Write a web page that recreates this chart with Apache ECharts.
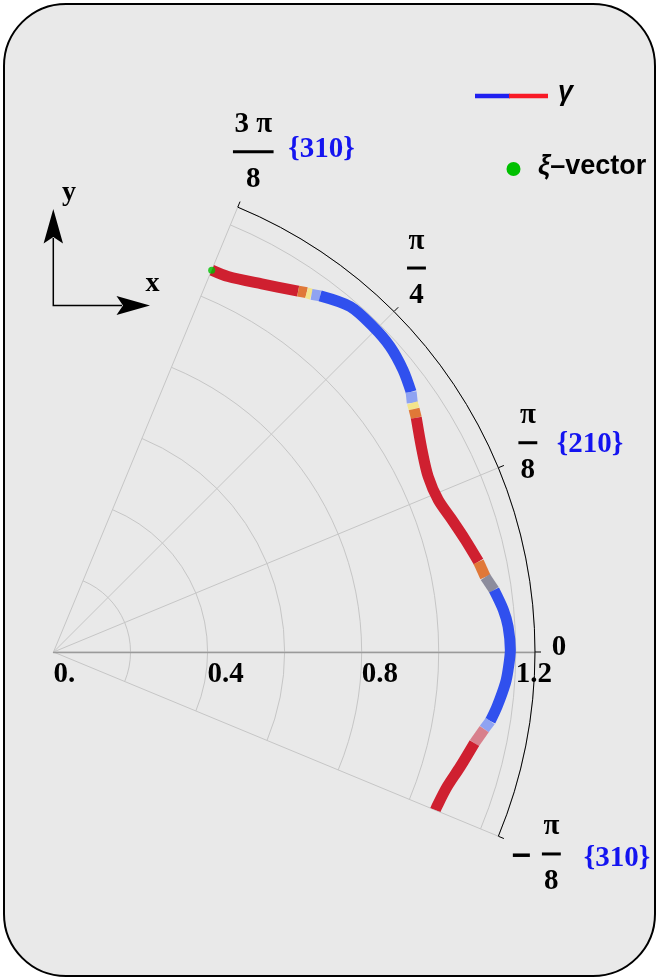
<!DOCTYPE html>
<html>
<head>
<meta charset="utf-8">
<script src="https://cdn.jsdelivr.net/npm/echarts@6/dist/echarts.min.js"></script>
<style>
  html, body { margin: 0; padding: 0; background: #ffffff; }
  #chart { width: 659px; height: 980px; }
</style>
</head>
<body>
<div id="chart"></div>
<script>
// Samples along the γ curve: polar angle (degrees) and radius.
const gammaAngle = [
  67.5, 65.06, 60.5, 55.87, 54.83, 54.19, 53.18, 49.35, 45.52, 42.22,
  38.90, 36.03, 34.78, 33.98, 32.85, 28.75, 25.08, 21.57, 18.34, 15.23,
  12.0, 9.86, 8.01, 5.34, 3.19, 0.25, -2.27, -3.93, -7.04, -8.98,
  -10.14, -12.21, -15.76, -18.91, -21.98, -22.5
];
const gammaRadius = [
  1.073, 1.075, 1.098, 1.132, 1.141, 1.145, 1.155, 1.182, 1.184, 1.180,
  1.166, 1.148, 1.134, 1.129, 1.121, 1.091, 1.074, 1.074, 1.090, 1.108,
  1.128, 1.138, 1.155, 1.173, 1.182, 1.186, 1.181, 1.176, 1.160, 1.148,
  1.136, 1.118, 1.097, 1.080, 1.073, 1.073
];
// Phase of the segment between sample i and sample i + 1.
const gammaPhase = [
  'red', 'red', 'red', 'orange', 'yellow', 'lightBlue', 'blue', 'blue', 'blue', 'blue',
  'blue', 'lightBlue', 'yellow', 'orange', 'red', 'red', 'red', 'red', 'red', 'red',
  'orange', 'gray', 'blue', 'blue', 'blue', 'blue', 'blue', 'blue', 'blue', 'lightBlue',
  'pink', 'red', 'red', 'red', 'red'
];
// ξ-vector: [radius, angle]
const xiVector = [1.073, 67.5];

const radiusTicks = [0, 0.4, 0.8, 1.2];
const angleTicks = [-22.5, 0, 22.5, 45, 67.5];
const angleTickLabels = [
  { sign: '−', num: 'π', den: '8' },
  { text: '0' },
  { num: 'π', den: '8' },
  { num: 'π', den: '4' },
  { num: '3 π', den: '8' }
];
const facetLabels = ['{310}', '', '{210}', '', '{310}'];

const phaseColor = {
  red: '#cf2030', orange: '#e07838', yellow: '#f3e48c', lightBlue: '#8fa3f2',
  blue: '#3050ee', gray: '#8c8c9c', pink: '#d8808c'
};

const SERIF = '"Liberation Serif", "Times New Roman", serif';
const SANS = '"Liberation Sans", Arial, sans-serif';
const CENTER = [53.5, 652];
const OUTER = 481.5;
const R_MAX = 1.25;

// group consecutive segments of the same phase into one line each
const runs = [];
gammaPhase.forEach((phase, i) => {
  const last = runs[runs.length - 1];
  if (last && last.phase === phase) last.end = i + 1;
  else runs.push({ phase, start: i, end: i + 1 });
});
const gammaSeries = runs.map(run => ({
  type: 'line',
  coordinateSystem: 'polar',
  polarIndex: 0,
  symbol: 'none',
  silent: true,
  smooth: run.end - run.start > 1 ? 0.3 : false,
  lineStyle: { color: phaseColor[run.phase], width: 11, cap: 'butt', join: 'round' },
  data: gammaAngle.slice(run.start, run.end + 1).map((a, k) => [gammaRadius[run.start + k], a]),
  z: 3
}));

const chart = echarts.init(document.getElementById('chart'), null, { renderer: 'canvas' });

chart.setOption({
  animation: false,
  backgroundColor: '#ffffff',
  polar: [
    { center: CENTER, radius: OUTER },
    { center: CENTER, radius: OUTER }
  ],
  angleAxis: [
    {
      polarIndex: 0, type: 'value', min: -22.5, max: 67.5, interval: 22.5,
      startAngle: -22.5, endAngle: 67.5, clockwise: false,
      axisLine: { show: true, lineStyle: { color: '#000', width: 1 } },
      axisTick: { show: true, length: 6, lineStyle: { color: '#000', width: 1 } },
      axisLabel: { show: false },
      splitLine: { show: true, lineStyle: { color: '#c6c6c6', width: 1 } }
    },
    {
      polarIndex: 1, type: 'value', min: 0, max: 67.5,
      startAngle: 0, endAngle: 67.5, clockwise: false,
      axisLine: { show: false }, axisTick: { show: false },
      axisLabel: { show: false }, splitLine: { show: false }
    }
  ],
  radiusAxis: [
    {
      polarIndex: 0, type: 'value', min: 0, max: R_MAX, interval: 0.2,
      axisLine: { show: false }, axisTick: { show: false }, axisLabel: { show: false },
      splitLine: { show: true, lineStyle: { color: '#c6c6c6', width: 1 } }
    },
    {
      polarIndex: 1, type: 'value', min: 0, max: R_MAX, interval: 0.4,
      axisLine: { show: true, lineStyle: { color: '#9a9a9a', width: 1.3 } },
      axisTick: { show: false },
      splitLine: { show: false },
      axisLabel: {
        show: true, margin: -23, align: 'left', verticalAlign: 'middle',
        showMaxLabel: false,
        fontFamily: SERIF, fontWeight: 'bold', fontSize: 29, color: '#000',
        formatter: v => {
          const t = radiusTicks.find(r => Math.abs(r - v) < 1e-6);
          if (t === undefined) return '';
          return t === 0 ? '0.' : t.toFixed(1);
        }
      }
    }
  ],
  series: gammaSeries.concat([{
    type: 'scatter',
    coordinateSystem: 'polar',
    polarIndex: 0,
    symbol: 'circle',
    symbolSize: 7,
    silent: true,
    itemStyle: { color: '#00c000' },
    data: [xiVector],
    z: 5
  }])
});

// ---- angle tick labels (stacked fractions) and overlay graphics ----
const measureCtx = document.createElement('canvas').getContext('2d');
function textWidth(str, font) { measureCtx.font = font; return measureCtx.measureText(str).width; }

// fraction centre relative to the tick end on the outer arc
const angleLabelOffset = [[53, 17.7], [24, -4], [29.5, -25], [22.5, -43.5], [15.5, -55.5]];
// facet label position relative to fraction centre / bar
const facetOffset = [[32.5, 5], null, [29, 2], null, [35, -2.5]];

const labelFont = 'bold 29px ' + SERIF;
const graphics = [];

// frame
graphics.push({
  type: 'rect', z: -10, silent: true,
  shape: { x: 4, y: 4, width: 651, height: 972, r: 62 },
  style: { fill: '#e9e9e9', stroke: '#000', lineWidth: 2 }
});

angleTicks.forEach((a, i) => {
  const p = chart.convertToPixel({ polarIndex: 0 }, [R_MAX, a]);
  const cx = p[0] + angleLabelOffset[i][0];
  const by = p[1] + angleLabelOffset[i][1];
  const lab = angleTickLabels[i];
  if (lab.text) {
    graphics.push({
      type: 'text', silent: true, x: cx, y: by,
      style: { text: lab.text, font: labelFont, fill: '#000', align: 'center', verticalAlign: 'middle' }
    });
  } else {
    const w = Math.max(textWidth(lab.num, labelFont), textWidth(lab.den, labelFont)) + 3;
    graphics.push({
      type: 'text', silent: true, x: cx, y: by - 27,
      style: { text: lab.num, font: labelFont, fill: '#000', align: 'center', verticalAlign: 'middle' }
    });
    graphics.push({
      type: 'rect', silent: true,
      shape: { x: cx - w / 2, y: by - 1.5, width: w, height: 3 },
      style: { fill: '#000' }
    });
    graphics.push({
      type: 'text', silent: true, x: cx, y: by + 27.5,
      style: { text: lab.den, font: labelFont, fill: '#000', align: 'center', verticalAlign: 'middle' }
    });
    if (lab.sign) {
      graphics.push({
        type: 'rect', silent: true,
        shape: { x: cx - 38.5, y: by - 0.5, width: 17, height: 3.5 },
        style: { fill: '#000' }
      });
    }
  }
  if (facetLabels[i]) {
    graphics.push({
      type: 'text', silent: true, x: cx + facetOffset[i][0], y: by + facetOffset[i][1],
      style: { text: facetLabels[i], font: labelFont, fill: '#1414f0', align: 'left', verticalAlign: 'middle' }
    });
  }
});

// legend
graphics.push(
  { type: 'line', silent: true, shape: { x1: 475, y1: 96, x2: 510, y2: 96 }, style: { stroke: '#2020f0', lineWidth: 4.5 } },
  { type: 'line', silent: true, shape: { x1: 509, y1: 96, x2: 548, y2: 96 }, style: { stroke: '#f81a26', lineWidth: 4.5 } },
  { type: 'text', silent: true, x: 558, y: 93,
    style: { text: 'γ', font: 'italic bold 27px ' + SANS, fill: '#000', align: 'left', verticalAlign: 'middle' } },
  { type: 'circle', silent: true, shape: { cx: 513.5, cy: 169, r: 7 }, style: { fill: '#00c000' } },
  { type: 'text', silent: true, x: 538, y: 167,
    style: {
      text: '{i|ξ}{n|–vector}', align: 'left', verticalAlign: 'middle',
      rich: {
        i: { fontFamily: SANS, fontStyle: 'italic', fontWeight: 'bold', fontSize: 27, fill: '#000' },
        n: { fontFamily: SANS, fontWeight: 'bold', fontSize: 27, fill: '#000' }
      }
    } }
);

// coordinate frame arrows
graphics.push(
  { type: 'polyline', silent: true, shape: { points: [[53.3, 238], [53.3, 305.5], [122, 305.5]] },
    style: { stroke: '#000', lineWidth: 1.5, fill: null } },
  { type: 'polygon', silent: true, shape: { points: [[53.3, 209], [63, 243.5], [53.3, 237], [43.6, 243.5]] },
    style: { fill: '#000' } },
  { type: 'polygon', silent: true, shape: { points: [[150, 305.5], [116.5, 296], [123, 305.5], [116.5, 315]] },
    style: { fill: '#000' } },
  { type: 'text', silent: true, x: 62, y: 193,
    style: { text: 'y', font: 'bold 28px ' + SERIF, fill: '#000', align: 'left', verticalAlign: 'middle' } },
  { type: 'text', silent: true, x: 145.5, y: 284,
    style: { text: 'x', font: 'bold 28px ' + SERIF, fill: '#000', align: 'left', verticalAlign: 'middle' } }
);

chart.setOption({ graphic: { elements: graphics } });
</script>
</body>
</html>
